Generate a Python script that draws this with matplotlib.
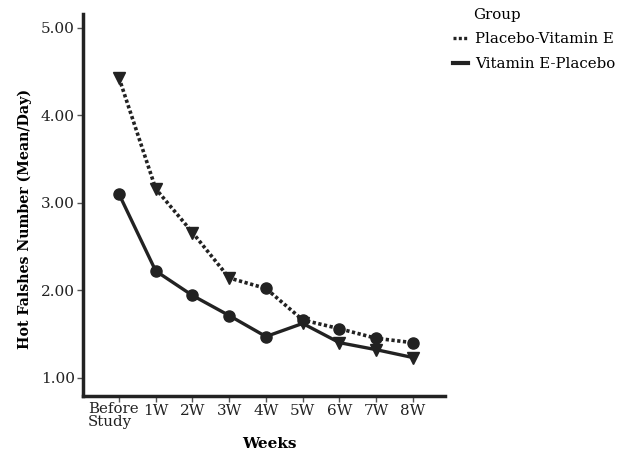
import matplotlib
matplotlib.use('Agg')
import matplotlib.pyplot as plt
from matplotlib.lines import Line2D

plt.rcParams['font.family'] = ['DejaVu Serif']

# data
weeks = ['Before\nStudy', '1W', '2W', '3W', '4W', '5W', '6W', '7W', '8W']
placebo_vite = [4.43, 3.16, 2.66, 2.14, 2.02, 1.66, 1.56, 1.45, 1.40]
vite_placebo = [3.10, 2.22, 1.94, 1.71, 1.47, 1.62, 1.40, 1.32, 1.23]
y_ticks = [1.0, 2.0, 3.0, 4.0, 5.0]
switch_at = 4  # treatment switch after 4 weeks

x = list(range(len(weeks)))
fig = plt.figure(figsize=(6.17, 4.5), dpi=100)
ax = fig.add_axes([0.1345, 0.12, 0.5865, 0.849])

col = '#222222'
dots = (0, (0.9, 0.7))
# Placebo-Vitamin E: dotted line, triangles on placebo, circles on vitamin E
ax.plot(x, placebo_vite, color=col, lw=2.6, linestyle=dots, zorder=2)
ax.plot(x[:switch_at], placebo_vite[:switch_at], 'v', color=col, ms=8.5, zorder=3)
ax.plot(x[switch_at:], placebo_vite[switch_at:], 'o', color=col, ms=8, zorder=3)
# Vitamin E-Placebo: solid line, circles on vitamin E, triangles on placebo
ax.plot(x, vite_placebo, color=col, lw=2.4, zorder=2)
ax.plot(x[:switch_at + 1], vite_placebo[:switch_at + 1], 'o', color=col, ms=8, zorder=3)
ax.plot(x[switch_at + 1:], vite_placebo[switch_at + 1:], 'v', color=col, ms=8.5, zorder=3)

ax.set_xlim(-0.98, 8.87)
ax.set_ylim(0.79, 5.16)
ax.set_xticks(x)
# first label sits a little left of its tick and is left aligned
ax.set_xticklabels([''] + weeks[1:], fontsize=11)
ax.annotate(weeks[0], xy=(x[0], 0), xycoords=ax.get_xaxis_transform(),
            xytext=(-31, -6), textcoords='offset pixels', ha='left', va='top',
            fontsize=10.8, color='#222222', linespacing=0.9, multialignment='left')
ax.set_yticks(y_ticks)
ax.set_yticklabels([f'{v:.2f}' for v in y_ticks], fontsize=11)
for s in ['top', 'right']:
    ax.spines[s].set_visible(False)
for s in ['left', 'bottom']:
    ax.spines[s].set_linewidth(2.5)
    ax.spines[s].set_color(col)
ax.tick_params(length=4, width=1, color='#555555', labelcolor='#222222', pad=2)

ax.set_xlabel('Weeks', fontsize=11, fontweight='bold')
ax.xaxis.set_label_coords(0.514, -0.108)
ax.set_ylabel('Hot Falshes Number (Mean/Day)', fontsize=10.2, fontweight='bold')
ax.yaxis.set_label_coords(-0.14, 0.463)

handles = [Line2D([], [], color=col, lw=2.4, linestyle=dots),
           Line2D([], [], color=col, lw=3)]
leg = fig.legend(handles, ['Placebo-Vitamin E', 'Vitamin E-Placebo'], title='Group',
                 loc='upper left', bbox_to_anchor=(0.724, 0.995), frameon=False,
                 fontsize=10.8, title_fontsize=10.8, handlelength=1.0, handletextpad=0.5,
                 labelspacing=0.75, borderaxespad=0)
leg._legend_box.align = 'left'
leg._legend_box.sep = 7
leg.get_title().set_position((20, 0))

fig.savefig('out.png', dpi=100)
